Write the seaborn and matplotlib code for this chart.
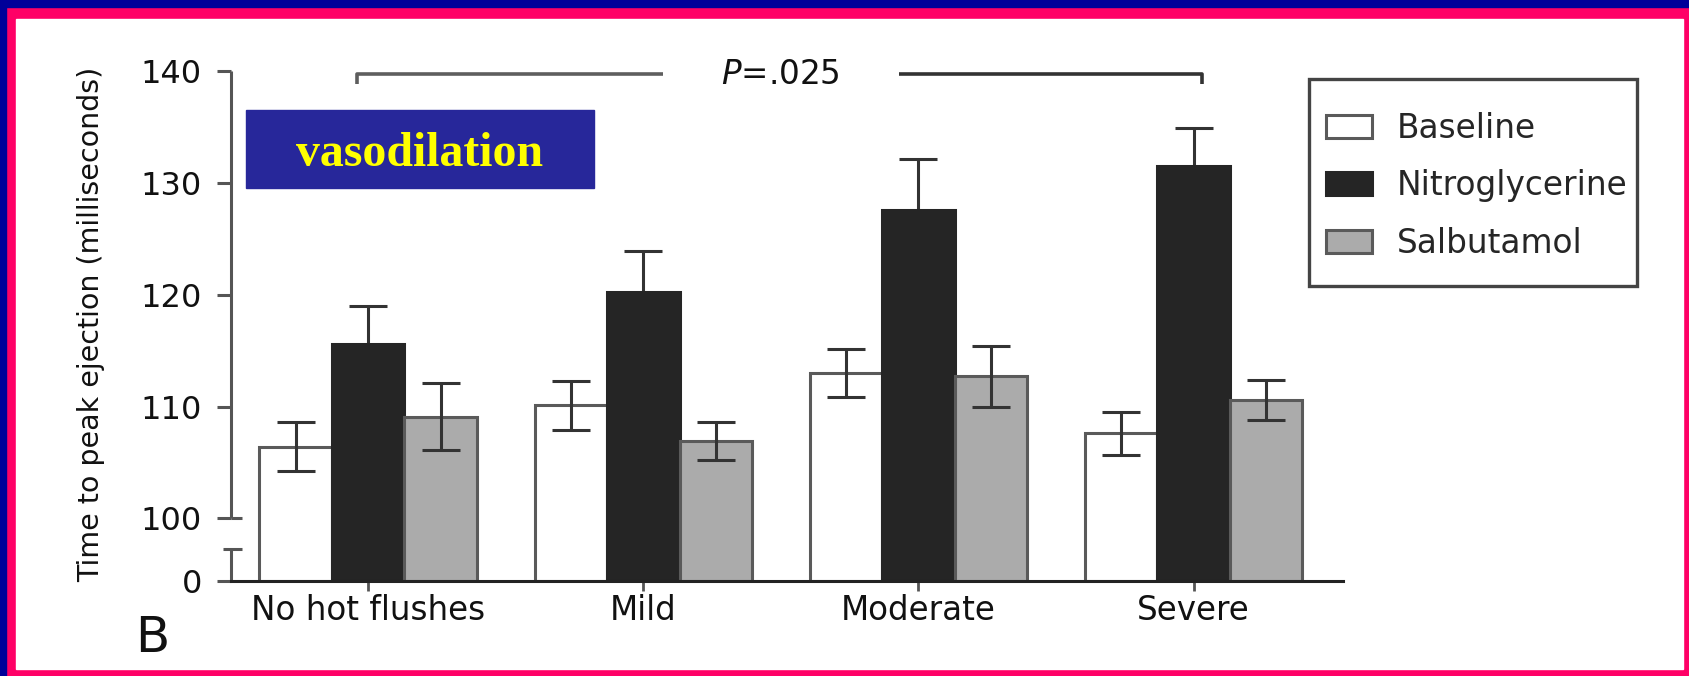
import numpy as np
import pandas as pd
import matplotlib
matplotlib.use("Agg")
import matplotlib.pyplot as plt
import matplotlib.transforms as mtransforms
from matplotlib.patches import Rectangle
import seaborn as sns

# Time to peak ejection by hot-flush severity and vasodilator challenge
groups = ["No hot flushes", "Mild", "Moderate", "Severe"]
treatments = ["Baseline", "Nitroglycerine", "Salbutamol"]
baseline = [106.4, 110.1, 113.0, 107.6]
nitroglycerine = [115.6, 120.2, 127.6, 131.5]
salbutamol = [109.1, 106.9, 112.7, 110.6]
baseline_se = [2.2, 2.15, 2.15, 1.95]
nitroglycerine_se = [3.4, 3.7, 4.5, 3.4]
salbutamol_se = [3.0, 1.7, 2.7, 1.8]
y_ticks = [0, 100, 110, 120, 130, 140]
p_text = r"$\it{P}$=.025"

values = {"Baseline": baseline, "Nitroglycerine": nitroglycerine, "Salbutamol": salbutamol}
errors = {"Baseline": baseline_se, "Nitroglycerine": nitroglycerine_se, "Salbutamol": salbutamol_se}
fills = {"Baseline": "#FFFFFF", "Nitroglycerine": "#252525", "Salbutamol": "#ABABAB"}
edges = {"Baseline": "#5A5A5A", "Nitroglycerine": "#252525", "Salbutamol": "#5A5A5A"}

df = pd.DataFrame(
    [(g, t, values[t][i]) for t in treatments for i, g in enumerate(groups)],
    columns=["group", "treatment", "value"],
)

sns.set_theme(style="white")
plt.rcParams["font.family"] = ["DejaVu Sans"]

W, H = 1690, 676
fig = plt.figure(figsize=(W / 100, H / 100), dpi=100, facecolor="#FF0066")

# slide frame: blue strips on top/left, white panel inside the pink border
fig.patches.append(Rectangle((0, 1 - 7 / H), 1, 7 / H, transform=fig.transFigure,
                             color="#000099", zorder=-3))
fig.patches.append(Rectangle((0, 0), 6 / W, 1, transform=fig.transFigure,
                             color="#000099", zorder=-3))
fig.patches.append(Rectangle((16 / W, 1 - 669 / H), (1683 - 16) / W, (669 - 19) / H,
                             transform=fig.transFigure, color="white", zorder=-2))

ax = fig.add_axes([231 / W, 1 - 581 / H, (1343 - 231) / W, (581 - 71) / H])
ax.set_facecolor("none")

sns.barplot(data=df, x="group", y="value", hue="treatment", order=groups,
            hue_order=treatments, palette=fills, width=0.79, errorbar=None,
            saturation=1, linewidth=2.2, legend=False, ax=ax)

# broken axis: 0-100 squeezed into a short stub below the 100-140 range
GAP = 5.59


def fwd(y):
    y = np.asarray(y, dtype=float)
    return np.where(y < 100, y * GAP / 100, y - 100 + GAP)


def inv(s):
    s = np.asarray(s, dtype=float)
    return np.where(s < GAP, s * 100 / GAP, s + 100 - GAP)


ax.set_yscale("function", functions=(fwd, inv))
ax.set_ylim(0, 140)
ax.set_xlim(-0.498, 3.5425)

for container, t in zip(ax.containers, treatments):
    xs = []
    for bar in container:
        bar.set_edgecolor(edges[t])
        bar.set_zorder(2)
        xs.append(bar.get_x() + bar.get_width() / 2)
    ax.errorbar(xs, values[t], yerr=errors[t], fmt="none", ecolor="#333333",
                elinewidth=2.2, capsize=13.5, capthick=2.2,
                zorder=1 if t == "Nitroglycerine" else 3)

for side in ["top", "right", "left"]:
    ax.spines[side].set_visible(False)
ax.spines["bottom"].set_color("#222222")
ax.spines["bottom"].set_linewidth(2.2)

ax.set_yticks(y_ticks)
ax.set_yticklabels([str(v) for v in y_ticks])
ax.tick_params(axis="y", left=True, direction="out", length=10, width=2.2,
               color="#555555", pad=11, labelsize=23, labelcolor="#111111")
ax.yaxis.get_major_ticks()[0].tick1line.set_color("#222222")
ax.tick_params(axis="x", bottom=True, direction="out", length=7, width=2,
               color="#555555", pad=2, labelsize=23.5, labelcolor="#111111")
ax.set_xlabel("")
ax.set_ylabel("Time to peak ejection (milliseconds)", fontsize=20.5, color="#111111")
ax.yaxis.set_label_coords(-0.113, 0.504)

# axis segments with break marks
trans = mtransforms.blended_transform_factory(ax.transAxes, ax.transData)
axis_kw = dict(transform=trans, color="#555555", lw=2.2, clip_on=False,
               solid_capstyle="butt")
ax.plot([0, 0], [100, 140], **axis_kw)
ax.plot([0, 0], [0, 51], **axis_kw)
ax.plot([0, 0.0099], [100, 100], **axis_kw)
ax.plot([-0.0072, 0.0099], [51, 51], **axis_kw)

# significance bracket across severity groups
ax.plot([-0.04, -0.04, 1.07], [138.84, 139.73, 139.73], color="#5E5E5E", lw=2.6,
        clip_on=False, solid_capstyle="butt")
ax.plot([1.93, 3.03, 3.03], [139.73, 139.73, 138.84], color="#333333", lw=2.6,
        clip_on=False, solid_capstyle="butt")
ax.text(1.5, 139.69, p_text, ha="center", va="center", fontsize=23.5,
        color="#111111", clip_on=False)

# legend with its own frame
fig.patches.append(Rectangle((1309 / W, 1 - 286 / H), 328 / W, 207 / H,
                             transform=fig.transFigure, fill=False,
                             edgecolor="#444444", lw=2.4, zorder=4))
handles = [Rectangle((0, 0), 1, 1, facecolor=fills[t], edgecolor=edges[t], lw=2.2)
           for t in treatments]
fig.legend(handles, treatments, loc="upper left",
           bbox_to_anchor=(1326 / W, 1 - 112 / H), frameon=False, borderpad=0,
           borderaxespad=0, handlelength=1.4, handleheight=0.7,
           handletextpad=0.76, labelspacing=0.74, fontsize=23.6)

fig.text(135 / W, 1 - 652 / H, "B", fontsize=36, ha="left", va="baseline",
         color="#111111")

# title banner
fig.patches.append(Rectangle((246 / W, 1 - 188 / H), 348 / W, 78 / H,
                             transform=fig.transFigure, color="#27279A", zorder=5))
fig.text(420 / W, 1 - 166 / H, "vasodilation", fontfamily="Liberation Serif",
         fontweight="bold", fontsize=34.5, color="#FFFF00", ha="center",
         va="baseline", zorder=6)

fig.savefig("out.png", dpi=100, facecolor=fig.get_facecolor())
